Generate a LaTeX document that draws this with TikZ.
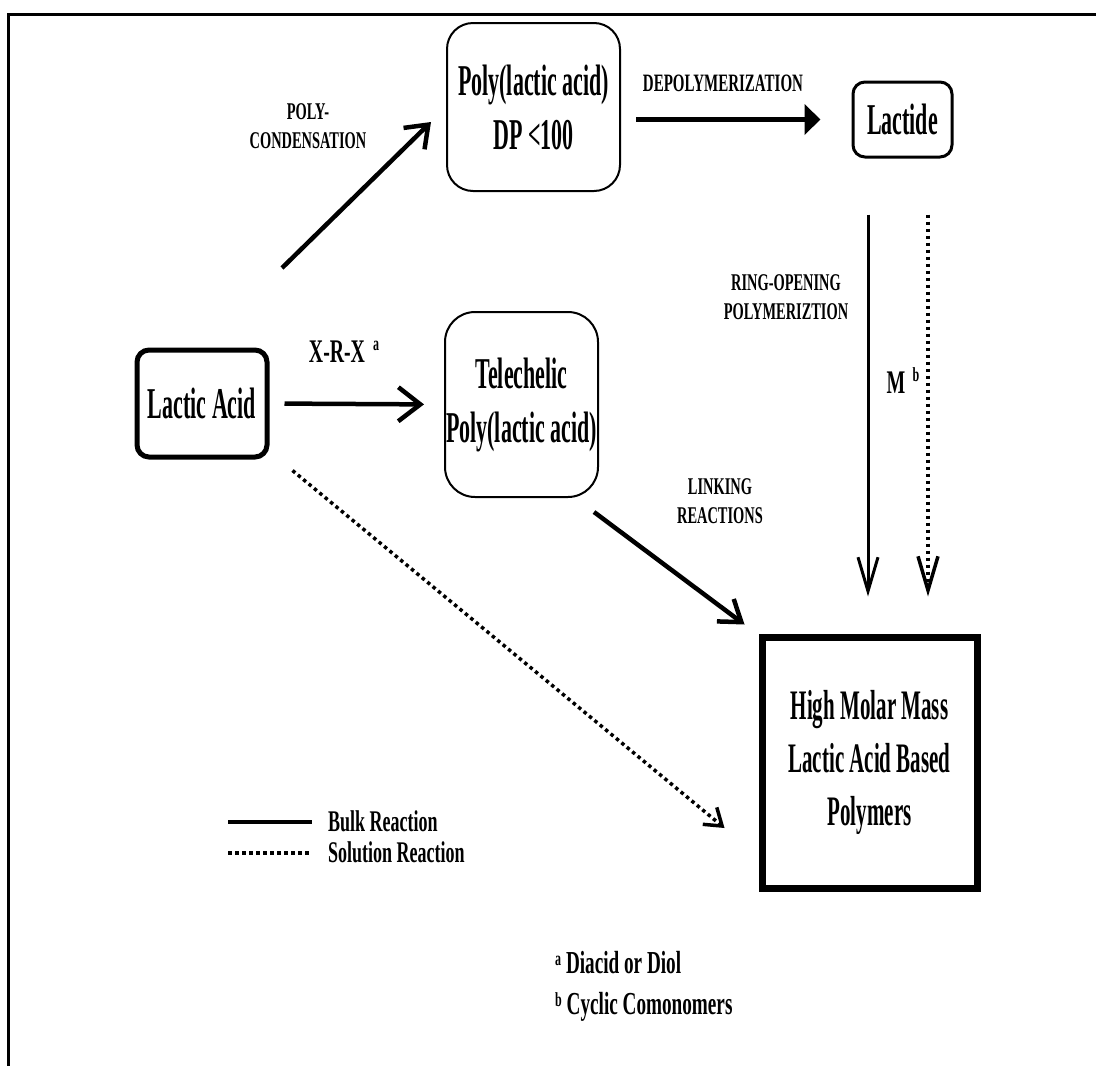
\documentclass[tikz,border=0pt]{standalone}
\usepackage{fontspec}
\newfontfamily\bigf{Liberation Serif}[FakeStretch=0.5]
\newfontfamily\smf{Liberation Serif}[FakeStretch=0.6]
\usetikzlibrary{arrows.meta}
\begin{document}
\begin{tikzpicture}[x=1pt,y=-1pt,
  boxtext/.style={font=\bigf\bfseries\fontsize{44}{54}\selectfont, align=center, inner sep=0pt},
  rbox/.style={boxtext, draw, rounded corners=#1},
  lbl/.style={font=\smf\bfseries\fontsize{24}{29}\selectfont, align=center, inner sep=0pt},
  midlbl/.style={font=\smf\bfseries\fontsize{33}{40}\selectfont, inner sep=0pt},
  suplbl/.style={font=\smf\bfseries\fontsize{20}{22}\selectfont, inner sep=0pt},
  conn/.style={line width=4.5pt},
  dots/.style={line width=3.5pt, dash pattern=on 3.5pt off 3.5pt},
]
\useasboundingbox (0,0) rectangle (1096,1066);
% frame
\draw[line width=3pt] (8,1066) -- (8,14) -- (1096,14);

% boxes
\node[rbox=12pt, line width=5pt, minimum width=130pt, minimum height=107pt] (LA) at (202,403.5) {Lactic Acid};
\node[rbox=26pt, line width=2pt, minimum width=173pt, minimum height=168pt] (PLA) at (533.5,107) {Poly(lactic acid)\\DP {<}100};
\node[rbox=12pt, line width=3pt, minimum width=99pt, minimum height=75pt] (LT) at (902.5,119.5) {Lactide};
\node[rbox=30pt, line width=2pt, minimum width=153pt, minimum height=185pt] (TP) at (521.5,404.5) {Telechelic\\Poly(lactic acid)};
\node[boxtext, draw, line width=7pt, minimum width=215pt, minimum height=251pt, font=\bigf\bfseries\fontsize{42}{53}\selectfont] (HM) at (869.5,762.5) {High Molar Mass\\Lactic Acid Based\\Polymers};

% connectors
\coordinate (pc0) at (282,268);
\draw[conn, -{Straight Barb[length=20pt,width=30pt]}] (pc0) -- ([shift={(-15,15)}]PLA.west);
\draw[conn, shorten <=15pt, shorten >=20pt, -{Straight Barb[length=22pt,width=34pt]}] (LA.east) -- (TP.west);
\draw[conn, line width=5pt, shorten <=15pt, shorten >=31pt, -{Triangle[length=16pt,width=30pt]}] (PLA.east |- LT.west) -- (LT.west);
\draw[line width=3pt, shorten <=56pt, shorten >=37pt, -{Straight Barb[length=34pt,width=20pt]}] ([xshift=-34.5pt]LT.south) -- ([xshift=-34.5pt]LT.south |- HM.north);
\draw[dots, shorten <=56pt, shorten >=37pt, -{Straight Barb[length=34pt,width=20pt]}] ([xshift=25.5pt]LT.south) -- ([xshift=25.5pt]LT.south |- HM.north);
\draw[conn, -{Straight Barb[length=20pt,width=28pt]}] ([shift={(-5,14)}]TP.south east) -- ([shift={(-14,-9)}]HM.north west);
\draw[dots, -{Straight Barb[length=16pt,width=22pt]}] ([shift={(23,11)}]LA.south east) -- ([shift={(-34,65.5)}]HM.west);

% labels
\node[lbl] (lpc) at (308,126) {POLY-\\CONDENSATION};
\node[lbl, font=\smf\bfseries\fontsize{25}{29}\selectfont] (ldp) at (723,83) {DEPOLYMERIZATION};
\node[lbl] (lro) at (786,297) {RING-OPENING\\POLYMERIZTION};
\node[lbl] (llk) at (720,501) {LINKING\\REACTIONS};
\node[midlbl] (lxrx) at (337,352) {X-R-X};
\node[suplbl] (lxa) at (376,346) {a};
\node[midlbl] (lm) at (896,383) {M};
\node[suplbl] (lmb) at (916,375) {b};

% legend
\coordinate (lg1a) at (228,822);
\coordinate (lg1b) at (312,822);
\draw[line width=4.5pt] (lg1a) -- (lg1b);
\node[midlbl, anchor=west, font=\smf\bfseries\fontsize{30}{34}\selectfont] (lbulk) at (328,821) {Bulk Reaction};
\coordinate (lg2a) at (228,853);
\coordinate (lg2b) at (310,853);
\draw[dots] (lg2a) -- (lg2b);
\node[midlbl, anchor=west, font=\smf\bfseries\fontsize{30}{34}\selectfont] (lsol) at (328,852) {Solution Reaction};

% footnotes
\node[midlbl, anchor=west, font=\smf\bfseries\fontsize{32}{38}\selectfont] (fa) at (555,963) {\raisebox{8pt}{\fontsize{20}{22}\selectfont a} Diacid or Diol};
\node[midlbl, anchor=west, font=\smf\bfseries\fontsize{32}{38}\selectfont] (fb) at (555,1007) {\raisebox{8pt}{\fontsize{20}{22}\selectfont b} Cyclic Comonomers};
\end{tikzpicture}
\end{document}
